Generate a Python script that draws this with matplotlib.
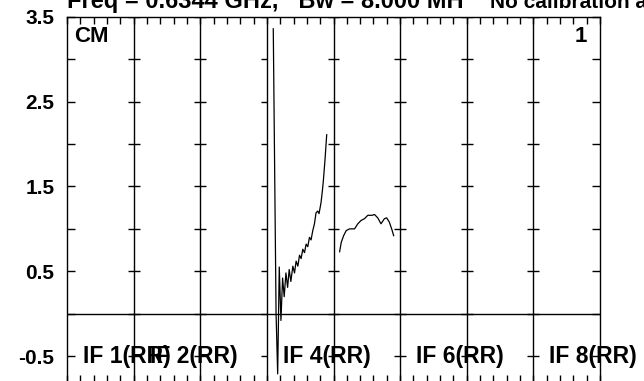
import matplotlib
matplotlib.use('Agg')
import matplotlib.pyplot as plt
import numpy as np

plt.rcParams['font.family'] = ['Liberation Sans', 'DejaVu Sans']
plt.rcParams['font.weight'] = 'bold'

# IF panels (one panel per IF), labels shown under the panels
n_if = 8
if_labels = ['IF 1(RR)', 'IF 2(RR)', 'IF 4(RR)', 'IF 6(RR)', 'IF 8(RR)']
if_label_panel = [0, 1, 3, 5, 7]

# trace in panel 4 (position inside the panel, 0..1)
p4_pos = [0.096, 0.138, 0.162, 0.186, 0.211, 0.236, 0.260, 0.286, 0.311, 0.335,
          0.360, 0.390, 0.415, 0.439, 0.465, 0.490, 0.514, 0.539, 0.565, 0.589,
          0.614, 0.639, 0.663, 0.689, 0.714, 0.738, 0.763, 0.783, 0.813, 0.833,
          0.848, 0.872, 0.898]
p4_val = [3.36, 0.00, -0.71, 0.55, -0.08, 0.42, 0.20, 0.48, 0.31, 0.52,
          0.38, 0.56, 0.48, 0.62, 0.56, 0.69, 0.65, 0.76, 0.72, 0.82,
          0.79, 0.90, 0.87, 0.98, 1.06, 1.19, 1.21, 1.18, 1.31, 1.45,
          1.57, 1.81, 2.11]

# trace in panel 5
p5_pos = [0.092, 0.116, 0.152, 0.191, 0.241, 0.316, 0.365, 0.415, 0.465, 0.515,
          0.579, 0.615, 0.664, 0.713, 0.764, 0.798, 0.838, 0.877, 0.903]
p5_val = [0.73, 0.84, 0.92, 0.98, 1.00, 1.00, 1.06, 1.10, 1.12, 1.16,
          1.16, 1.17, 1.13, 1.06, 1.12, 1.13, 1.08, 0.99, 0.92]

fig = plt.figure(figsize=(6.44, 3.81), dpi=100)
ax = fig.add_axes([67 / 644, -0.5 / 381, 533 / 644, 364.6 / 381])
ax.set_xlim(0, n_if)
ax.set_ylim(-0.8, 3.5)

for s in ax.spines.values():
    s.set_linewidth(1.0)

ax.set_yticks(np.arange(-0.5, 3.51, 1.0))
ax.set_yticks(np.arange(-0.5, 3.51, 0.5), minor=True)
ax.set_yticklabels(['%.1f' % v for v in np.arange(-0.5, 3.51, 1.0)], fontsize=15, fontweight='bold')
ax.set_xticks(np.arange(0, n_if + 1, 1))
ax.set_xticks(np.arange(0, n_if + 0.01, 0.2), minor=True)
ax.tick_params(axis='y', which='both', direction='in', length=6, width=1, left=True, right=True, pad=9)
ax.tick_params(axis='x', which='both', direction='in', length=5, width=1, top=True, bottom=True,
               labelbottom=False)

# panel dividers with their little ticks
tick_y = np.arange(-0.5, 3.51, 0.5)
for k in range(1, n_if):
    ax.axvline(k, color='black', lw=1.0)
    ax.hlines(tick_y, k - 0.09, k, color='black', lw=1.0)
    if k != 3:
        ax.hlines(tick_y, k, k + 0.09, color='black', lw=1.0)

ax.axhline(0, color='black', lw=1.0)

ax.plot(3 + np.array(p4_pos), p4_val, color='black', lw=0.9)
ax.plot(4 + np.array(p5_pos), p5_val, color='black', lw=0.9)

for lab, k in zip(if_labels, if_label_panel):
    ax.text(k + 0.24, -0.5, lab, fontsize=16.5, fontweight='bold', va='center', ha='left', clip_on=False)

ax.text(0.013, 0.945, 'CM', transform=ax.transAxes, fontsize=16, fontweight='bold', va='center')
ax.text(0.975, 0.945, '1', transform=ax.transAxes, fontsize=16, fontweight='bold', va='center', ha='right')

fig.text(67 / 644, 1 - 8 / 381, 'Freq = 0.6344 GHz,   Bw = 8.000 MH', fontsize=17, fontweight='bold',
         va='baseline')
fig.text(490 / 644, 1 - 8 / 381, 'No calibration applied', fontsize=15, fontweight='bold', va='baseline')

fig.savefig('out.png', dpi=100)
